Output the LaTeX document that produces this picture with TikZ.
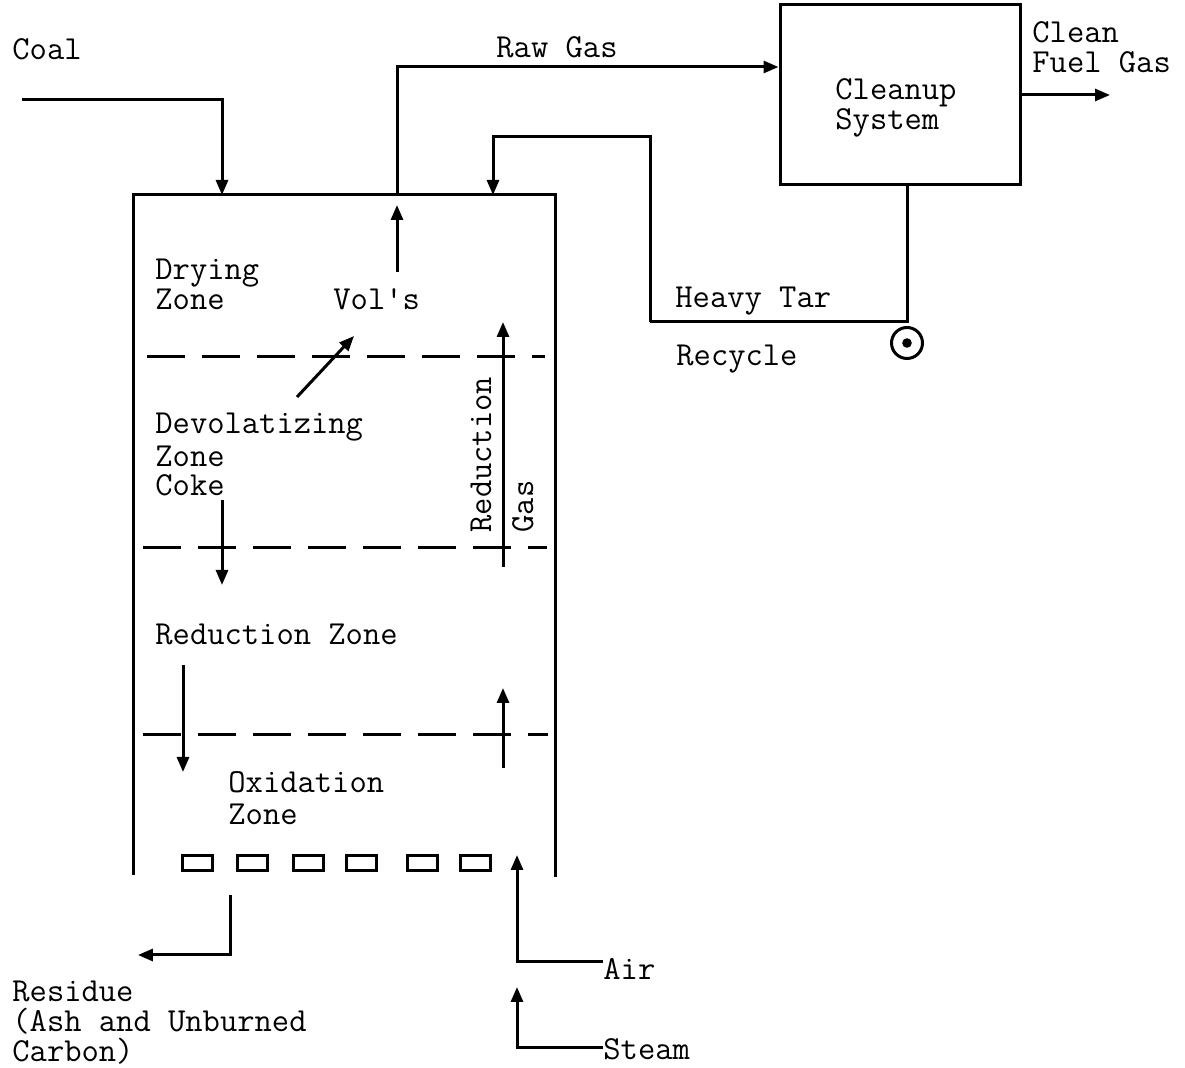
\documentclass[tikz,border=0pt]{standalone}
\usepackage{fontspec}
\usetikzlibrary{positioning,arrows.meta}

\begin{document}
\begin{tikzpicture}[x=0.5pt, y=-0.5pt, >={Triangle[length=7.5pt,width=6pt]},
    pipe/.style={line width=1.5pt},
    lbl/.style={font=\fontsize{16.8}{17}\selectfont\ttfamily, inner sep=0pt, text height=10.4pt, text depth=3.2pt, anchor=base west},
    zoneline/.style={line width=1.5pt, dash pattern=on 19pt off 8.5pt},
    grate/.style={line width=1.5pt, minimum width=15pt, minimum height=7.5pt, inner sep=0pt, draw}]
  \useasboundingbox (0,0) rectangle (1185,1068);

  % gasifier vessel
  \draw[pipe] (133,875) -- (133,195) -- (555,195) -- (555,877);
  \coordinate (coaltop) at (222,195);
  \coordinate (gastop) at (397,195);
  \coordinate (tartop) at (493,195);

  % cleanup unit
  \node[draw, pipe, minimum width=120pt, minimum height=90pt, inner sep=0pt] (clean) at (900,95) {};
  \node[lbl] (cleanA) at (835,100) {Cleanup};
  \node[lbl] (cleanB) at (835,130) {System};

  % coal feed
  \node[lbl] (coal) at (12,60) {Coal};
  \coordinate (coalin) at (22,100);
  \draw[pipe,->] (coalin) -| (coaltop);

  % raw gas
  \node[lbl, anchor=base] (rawgas) at (557,58) {Raw Gas};
  \draw[pipe,->] (gastop) |- (clean.west |- 0,67);
  \coordinate (volsa) at (397,272);
  \draw[pipe,->] (volsa) -- ++(0,-67);
  \node[lbl] (vols) at (333,310) {Vol's};

  % product gas
  \node[lbl] (fuelA) at (1032,43) {Clean};
  \node[lbl] (fuelB) at (1032,73) {Fuel Gas};
  \coordinate (fuelout) at (1110,95);
  \draw[pipe,->] (clean.east |- fuelout) -- (fuelout);

  % tar recycle
  \node[draw, pipe, circle, minimum size=15.5pt, inner sep=0pt] (pump) at (907,343) {};
  \fill (pump) circle (2.4pt);
  \coordinate (tarturn) at (650,322);
  \draw[pipe] (clean.south -| pump) -- (pump.north |- tarturn) -- (tarturn);
  \draw[pipe,->] (tarturn) -- (650,137) -| (tartop);
  \node[lbl] (tar) at (675,308) {Heavy Tar};
  \node[lbl] (recycle) at (676,366) {Recycle};

  % zones
  \draw[zoneline] (147,357) -- (545,357);
  \draw[zoneline] (143,548) -- (547,548);
  \draw[zoneline] (143,735) -- (548,735);
  \node[lbl] (dryA) at (155,280) {Drying};
  \node[lbl] (dryB) at (155,310) {Zone};
  \node[lbl] (devA) at (155,434) {Devolatizing};
  \node[lbl] (devB) at (155,467) {Zone};
  \node[lbl] (coke) at (155,496) {Coke};
  \node[lbl] (red) at (155,645) {Reduction Zone};
  \node[lbl] (oxA) at (228,793) {Oxidation};
  \node[lbl] (oxB) at (228,825) {Zone};
  \node[lbl, rotate=90] (redgasA) at (491,533) {Reduction};
  \node[lbl, rotate=90] (redgasB) at (533,533) {Gas};

  % internal flows
  \draw[pipe,->] (297,397) -- (354,336);
  \draw[pipe,->] (222,500) -- (222,585);
  \draw[pipe,->] (503,567) -- (503,322);
  \draw[pipe,->] (183,665) -- (183,772);
  \draw[pipe,->] (503,768) -- (503,688);

  % grate
  \foreach \gx [count=\i] in {197,252,308,361,422,475}
    \node[grate] (g\i) at (\gx,863) {};

  % residue
  \node[lbl] (resA) at (12,1002) {Residue};
  \node[lbl] (resB) at (12,1032) {(Ash and Unburned};
  \node[lbl] (resC) at (12,1062) {Carbon)};
  \draw[pipe,->] (230,895) |- ([xshift=2pt]resA.east |- 0,955);

  % air and steam
  \node[lbl] (air) at (603,980) {Air};
  \node[lbl] (steam) at (603,1060) {Steam};
  \draw[pipe,->] (air.west |- 0,962) -| (517,855);
  \draw[pipe,->] (steam.west |- 0,1048) -| (517,987);
\end{tikzpicture}
\end{document}
